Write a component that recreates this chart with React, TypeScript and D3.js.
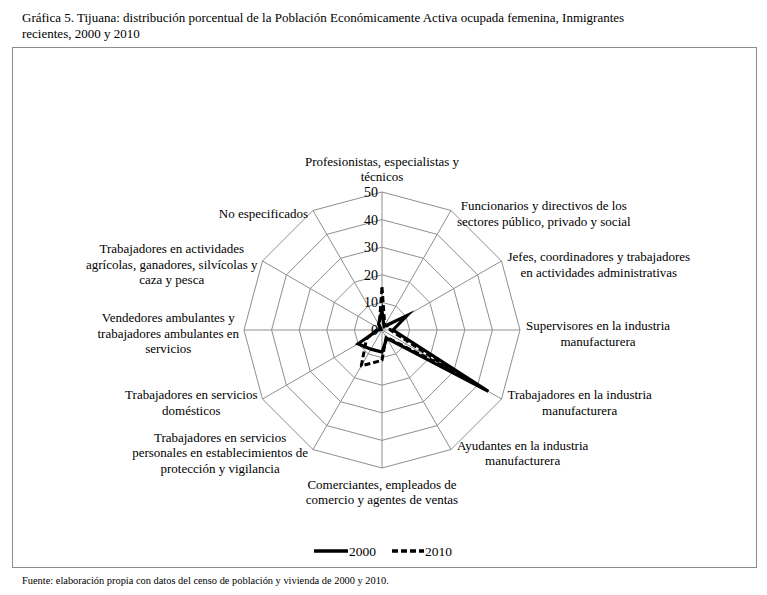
import React from "react";
import * as d3 from "d3";

const categories: string[][] = [
  ["Profesionistas, especialistas y", "técnicos"],
  ["Funcionarios y directivos de los", "sectores público, privado y social"],
  ["Jefes, coordinadores y trabajadores", "en actividades administrativas"],
  ["Supervisores en la industria", "manufacturera"],
  ["Trabajadores en la industria", "manufacturera"],
  ["Ayudantes en la industria", "manufacturera"],
  ["Comerciantes, empleados de", "comercio y agentes de ventas"],
  ["Trabajadores en servicios", "personales en establecimientos de", "protección y vigilancia"],
  ["Trabajadores en servicios", "domésticos"],
  ["Vendedores ambulantes y", "trabajadores ambulantes en", "servicios"],
  ["Trabajadores en actividades", "agrícolas, ganadores, silvícolas y", "caza y pesca"],
  ["No especificados"],
];

const values2000: number[] = [7, 1.5, 10.5, 4, 44.5, 3.5, 8, 8, 10, 1.5, 0.5, 2.5];
const values2010: number[] = [15.5, 2, 3, 3, 30, 3, 11, 15, 6.5, 2, 0.5, 2];
const ticks: number[] = [0, 10, 20, 30, 40, 50];
const seriesNames: string[] = ["2000", "2010"];

const titleLines = [
  "Gráfica 5. Tijuana: distribución porcentual de la Población Económicamente Activa ocupada femenina, Inmigrantes",
  "recientes, 2000 y 2010",
];
const footer = "Fuente: elaboración propia con datos del censo de población y vivienda de 2000 y 2010.";

const W = 767;
const H = 595;
const cx = 382;
const cy = 330;
const R = 138;
const FONT = "'Liberation Serif', 'Times New Roman', serif";

function measure(text: string, size: number): number {
  if (typeof document === "undefined") return text.length * size * 0.45;
  const c = document.createElement("canvas").getContext("2d");
  if (!c) return text.length * size * 0.45;
  c.font = `${size}px 'Liberation Serif'`;
  return c.measureText(text).width;
}

export default function App() {
  const n = categories.length;
  const r = d3.scaleLinear().domain([0, 50]).range([0, R]);
  const angle = (i: number) => (i * 2 * Math.PI) / n;
  const pt = (i: number, v: number): [number, number] => [
    cx + r(v) * Math.sin(angle(i)),
    cy - r(v) * Math.cos(angle(i)),
  ];

  const lineGen = d3.line<[number, number]>().curve(d3.curveLinearClosed);
  const ring = (v: number) => lineGen(d3.range(n).map((i) => pt(i, v))) as string;
  const seriesPath = (vals: number[]) => lineGen(vals.map((v, i) => pt(i, v))) as string;

  const fs = 13;
  const lh = 15.5;

  const labels = categories.map((lines, i) => {
    const [vx, vy] = pt(i, 50);
    const s = Math.sin(angle(i));
    const c = Math.cos(angle(i));
    const w = d3.max(lines, (l) => measure(l, fs)) as number;
    const h = lines.length * lh;
    let bx: number;
    if (s > 0.1) bx = vx + 6 + w / 2;
    else if (s < -0.1) bx = vx - 5 - w / 2;
    else bx = vx;
    let top: number;
    if (Math.abs(s) < 0.1) {
      top = c > 0 ? vy - 7 - h : vy + 9;
    } else {
      top = vy + 4 - h / 2;
    }
    return { lines, bx, top };
  });

  return (
    <svg
      width={W}
      height={H}
      style={{ position: "absolute", left: 0, top: 0, background: "#fff" }}
      fontFamily={FONT}
    >
      <rect x={0} y={0} width={W} height={H} fill="#fff" />
      {titleLines.map((t, i) => (
        <text key={i} x={22} y={22 + i * 16} fontSize={13} fill="#000">
          {t}
        </text>
      ))}
      <rect x={12.5} y={47.5} width={744} height={520} fill="none" stroke="#8c8c8c" strokeWidth={1} />
      <text x={22} y={584} fontSize={10.4} fill="#000">
        {footer}
      </text>

      <g>
        {ticks.slice(1).map((t) => (
          <path key={t} d={ring(t)} fill="none" stroke="#8f8f8f" strokeWidth={1} />
        ))}
        {d3.range(n).map((i) => {
          const [x, y] = pt(i, 50);
          return <line key={i} x1={cx} y1={cy} x2={x} y2={y} stroke="#8f8f8f" strokeWidth={1} />;
        })}
      </g>

      <path d={seriesPath(values2010)} fill="none" stroke="#000" strokeWidth={3} strokeDasharray="6,3" strokeLinejoin="round" />
      <path d={seriesPath(values2000)} fill="none" stroke="#000" strokeWidth={3.2} strokeLinejoin="miter" strokeMiterlimit={20} />

      {ticks.map((t) => (
        <text key={t} x={cx - 4} y={cy - r(t)} dy="0.35em" textAnchor="end" fontSize={14} fill="#000">
          {t}
        </text>
      ))}

      {labels.map((lb, i) => (
        <text key={i} fontSize={fs} fill="#000" textAnchor="middle">
          {lb.lines.map((l, j) => (
            <tspan key={j} x={lb.bx} y={lb.top + (j + 1) * lh - 4}>
              {l}
            </tspan>
          ))}
        </text>
      ))}

      <g>
        <line x1={314} y1={551} x2={348} y2={551} stroke="#000" strokeWidth={3.5} />
        <text x={349} y={556} fontSize={13.5} fill="#000">{seriesNames[0]}</text>
        <line x1={392} y1={551} x2={424} y2={551} stroke="#000" strokeWidth={3.5} strokeDasharray="6,3" />
        <text x={425} y={556} fontSize={13.5} fill="#000">{seriesNames[1]}</text>
      </g>
    </svg>
  );
}
